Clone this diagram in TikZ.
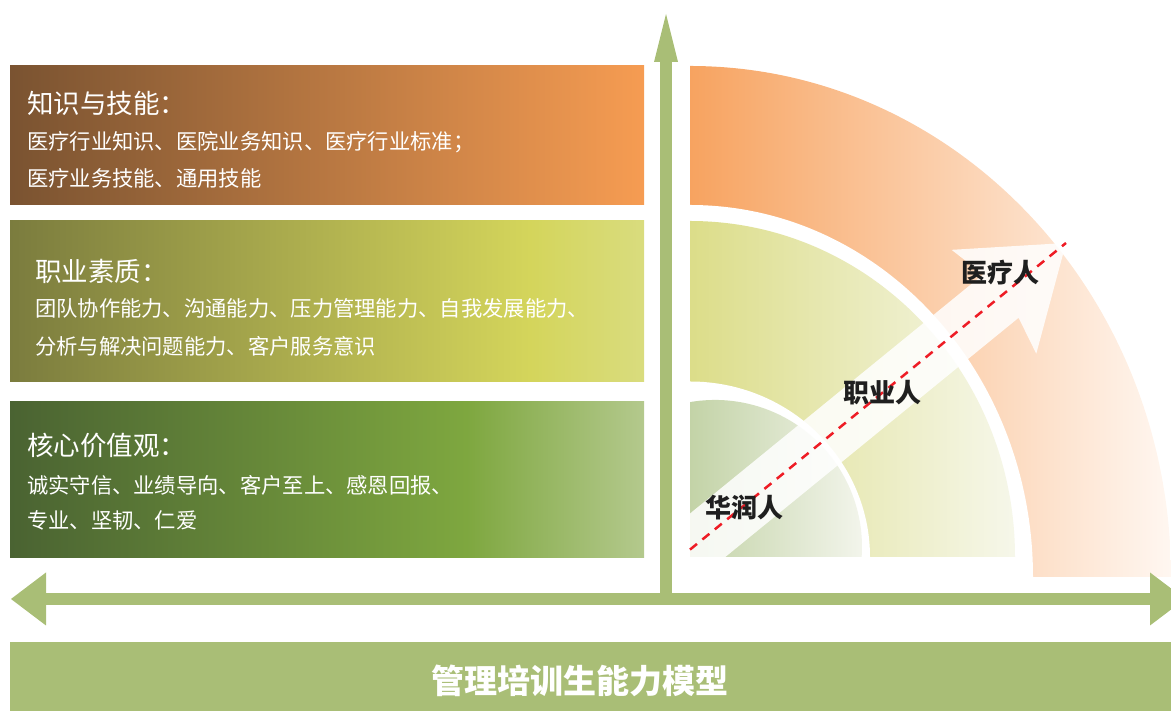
\documentclass[tikz,border=0pt]{standalone}
\usepackage{fontspec}
\setmainfont{Noto Sans CJK SC}
\usetikzlibrary{arrows.meta}

\definecolor{axis green}{HTML}{A9BE76}
\definecolor{skills left}{HTML}{7A5331}
\definecolor{skills right}{HTML}{F69C52}
\definecolor{quality left}{HTML}{7B7C3E}
\definecolor{quality mid}{HTML}{D4D55B}
\definecolor{quality right}{HTML}{D9DC7E}
\definecolor{values left}{HTML}{4A6332}
\definecolor{values mid}{HTML}{7EA73F}
\definecolor{values right}{HTML}{B4C98D}
\definecolor{ring orange}{HTML}{F7A360}
\definecolor{ring orange fade}{HTML}{FFF7F1}
\definecolor{ring lime}{HTML}{DCDD89}
\definecolor{ring lime fade}{HTML}{F6F7EA}
\definecolor{ring sage}{HTML}{C3D3A7}
\definecolor{ring sage fade}{HTML}{F3F5EC}
\definecolor{path red}{HTML}{EE1C25}
\colorlet{label ink}{black!88}

\pgfdeclarehorizontalshading{quality shading}{100bp}{color(0bp)=(quality left); color(25bp)=(quality left); color(66bp)=(quality mid); color(75bp)=(quality right); color(100bp)=(quality right)}
\pgfdeclarehorizontalshading{values shading}{100bp}{color(0bp)=(values left); color(25bp)=(values left); color(61bp)=(values mid); color(75bp)=(values right); color(100bp)=(values right)}

\tikzset{
  box text/.style={anchor=west, inner sep=0pt, text=white, font=\fontsize{21.3}{25}\selectfont},
  box title/.style={box text, font=\fontsize{26.5}{30}\selectfont},
  axis/.style={draw=axis green, line width=12pt}
  }
\tikzstyle{stage} = [inner sep=0pt, text=label ink, font=\bfseries\fontsize{26}{30}\selectfont]
\tikzstyle{route} = [draw=path red, line width=2.5pt, dash pattern=on 9pt off 7pt]
\tikzstyle{banner} = [inner sep=0pt, text=white, font=\bfseries\fontsize{33}{36}\selectfont]

\begin{document}
\begin{tikzpicture}[x=1pt, y=1pt]
    \useasboundingbox (0,0) rectangle (1171,711);

    % Definition of the rings
    \def\outerring{(690,134) -- (690,645) arc[start angle=90, end angle=0, x radius=481, y radius=511] -- cycle}
    \def\outergap{(690,134) -- (690,506) arc[start angle=90, end angle=0, x radius=343, y radius=372] -- cycle}
    \def\middlering{(690,154) -- (690,490) arc[start angle=90, end angle=0, x radius=325, y radius=336] -- cycle}
    \def\innergap{(690,154) -- (690,329.5) arc[start angle=90, end angle=0, x radius=180, y radius=175.5] -- cycle}
    \def\innerring{(690,154) -- (690,308.9) arc[start angle=99.79, end angle=-3.9, radius=147] -- cycle}

    % left boxes
    \shade[left color=skills left, right color=skills right] (10,506) rectangle (644,645);
    \shade[shading=quality shading] (10,329.5) rectangle (644,490);
    \shade[shading=values shading] (10,153.5) rectangle (644,309);

    \foreach \pos/\name/\txt in {{(27,607.5)/skills/知识与技能：}, {(35,440)/quality/职业素质：}, {(27,266)/values/核心价值观：}} {
      \node[box title] (\name) at \pos {\txt};
    }
    \foreach \pos/\name/\txt in {{(27,569)/skills a/医疗行业知识、医院业务知识、医疗行业标准；},
                                 {(27,532.5)/skills b/医疗业务技能、通用技能},
                                 {(35,403)/quality a/团队协作能力、沟通能力、压力管理能力、自我发展能力、},
                                 {(35,365)/quality b/分析与解决问题能力、客户服务意识},
                                 {(27,226)/values a/诚实守信、业绩导向、客户至上、感恩回报、},
                                 {(27,191)/values b/专业、坚韧、仁爱}} {
      \node[box text] (\name) at \pos {\txt};
    }

    % rings
    \shade[left color=ring orange, right color=ring orange fade] \outerring;
    \fill[white] \outergap;
    \shade[left color=ring lime, right color=ring lime fade] \middlering;
    \fill[white] \innergap;
    \shade[left color=ring sage, right color=ring sage fade] \innerring;

    % growth arrow
    \coordinate (tip) at (1066,468);
    \coordinate (tail) at (690,161.4);
    \begin{scope}
      \clip (690,154) rectangle (1171,711);
      \fill[white, fill opacity=0.85, shift={(tip)}, rotate=39.2]
        (0,0) -- (-93,67) -- (-84,28) -- (-560,28) -- (-560,-28) -- (-84,-28) -- (-93,-67) -- cycle;
    \end{scope}
    \path[route] (tail) -- (tip);

    \node[stage] (huarun) at (744,203) {华润人};
    \node[stage] (zhiye) at (882.5,318.5) {职业人};
    \node[stage] (yiliao) at (1000,438) {医疗人};

    % axes
    \coordinate (west end) at (11,112);
    \coordinate (east end) at (1185,112);
    \coordinate (axis foot) at (666,112);
    \coordinate (north end) at (666,697);
    \draw[axis, {Triangle[length=35pt, width=53pt, line width=0pt]}-{Triangle[length=35pt, width=53pt, line width=0pt]}] (west end) -- (east end);
    \draw[axis, -{Triangle[length=48pt, width=24pt, line width=0pt]}] (axis foot) -- (north end);

    % bottom bar
    \fill[axis green] (10,0) rectangle (1171,69.3);
    \node[banner] (model) at (580,30.5) {管理培训生能力模型};
\end{tikzpicture}
\end{document}
